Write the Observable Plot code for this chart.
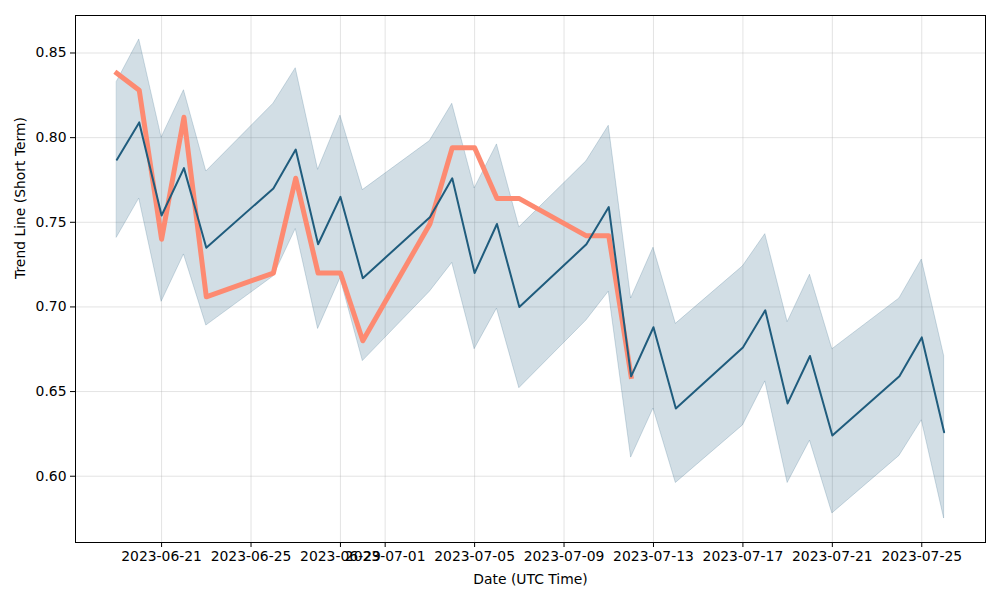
<!DOCTYPE html>
<html>
<head>
<meta charset="utf-8">
<script src="https://cdn.jsdelivr.net/npm/d3@7"></script>
<script src="https://cdn.jsdelivr.net/npm/@observablehq/plot@0.6"></script>
<style>
  html, body { margin: 0; padding: 0; background: #fff; }
  #chart { width: 1000px; height: 600px; }
  svg { font-family: "DejaVu Sans", sans-serif; }
</style>
</head>
<body>
<div id="chart"></div>
<script>
const dates = ["2023-06-19","2023-06-20","2023-06-21","2023-06-22","2023-06-23","2023-06-26","2023-06-27","2023-06-28","2023-06-29","2023-06-30","2023-07-03","2023-07-04","2023-07-05","2023-07-06","2023-07-07","2023-07-10","2023-07-11","2023-07-12","2023-07-13","2023-07-14","2023-07-17","2023-07-18","2023-07-19","2023-07-20","2023-07-21","2023-07-24","2023-07-25","2023-07-26"];
const trend = [0.787,0.809,0.754,0.782,0.735,0.770,0.793,0.737,0.765,0.717,0.753,0.776,0.720,0.749,0.700,0.737,0.759,0.659,0.688,0.640,0.676,0.698,0.643,0.671,0.624,0.659,0.682,0.626];
const upper = [0.833,0.858,0.800,0.828,0.780,0.820,0.841,0.781,0.813,0.769,0.798,0.820,0.770,0.796,0.747,0.786,0.807,0.705,0.735,0.690,0.724,0.743,0.691,0.719,0.675,0.705,0.728,0.671];
const lower = [0.741,0.764,0.703,0.731,0.689,0.718,0.746,0.687,0.717,0.668,0.709,0.726,0.675,0.699,0.652,0.692,0.709,0.611,0.640,0.596,0.630,0.656,0.596,0.621,0.578,0.612,0.633,0.575];
const actualDates = dates.slice(0, 18);
const actual = [0.838,0.828,0.740,0.812,0.706,0.720,0.776,0.720,0.720,0.680,0.749,0.794,0.794,0.764,0.764,0.742,0.742,0.659];
const xTicks = ["2023-06-21","2023-06-25","2023-06-29","2023-07-01","2023-07-05","2023-07-09","2023-07-13","2023-07-17","2023-07-21","2023-07-25"];
const yTicks = [0.60,0.65,0.70,0.75,0.80,0.85];

const parse = d3.utcParse("%Y-%m-%d");
const band = dates.map((d, i) => ({date: parse(d), trend: trend[i], lo: lower[i], hi: upper[i]}));
const act = actualDates.map((d, i) => ({date: parse(d), value: actual[i]}));
const xt = xTicks.map(parse);

// matplotlib-like 5% margins
const [x0, x1] = d3.extent(band, d => +d.date);
const xm = (x1 - x0) * 0.05;
const ymin = d3.min([...lower, ...actual]), ymax = d3.max([...upper, ...actual]);
const ym = (ymax - ymin) * 0.05;

const blue = "#1f5c7d";
const orange = "#fd8a71";
const fs = 13.9;

const plot = Plot.plot({
  width: 1000,
  height: 600,
  marginLeft: 75,
  marginRight: 15,
  marginTop: 15,
  marginBottom: 58,
  style: {fontFamily: "DejaVu Sans, sans-serif", fontSize: fs + "px", color: "black", background: "white"},
  x: {type: "utc", domain: [new Date(x0 - xm), new Date(x1 + xm)], ticks: xt, tickFormat: d3.utcFormat("%Y-%m-%d"), label: null},
  y: {domain: [ymin - ym, ymax + ym], ticks: yTicks, tickFormat: d3.format(".2f"), label: null},
  marks: [
    Plot.gridX(xt, {stroke: "#b0b0b0", strokeOpacity: 0.35, strokeWidth: 1}),
    Plot.gridY(yTicks, {stroke: "#b0b0b0", strokeOpacity: 0.35, strokeWidth: 1}),
    Plot.areaY(band, {x: "date", y1: "lo", y2: "hi", fill: blue, fillOpacity: 0.2, stroke: blue, strokeOpacity: 0.2, strokeWidth: 1}),
    Plot.lineY(act, {x: "date", y: "value", stroke: orange, strokeWidth: 5, strokeLinecap: "square", strokeLinejoin: "round"}),
    Plot.lineY(band, {x: "date", y: "trend", stroke: blue, strokeWidth: 2, strokeLinejoin: "round"}),
    Plot.axisX(xt, {tickSize: 5, tickPadding: 4, fontSize: fs, tickFormat: d3.utcFormat("%Y-%m-%d"), label: null, color: "black"}),
    Plot.axisY(yTicks, {tickSize: 5, tickPadding: 4, fontSize: fs, tickFormat: d3.format(".2f"), label: null, color: "black"}),
    Plot.frame({stroke: "black", strokeWidth: 1}),
    Plot.text(["Date (UTC Time)"], {frameAnchor: "bottom", dy: 41, fontSize: fs, fill: "black"}),
    Plot.text(["Trend Line (Short Term)"], {frameAnchor: "left", dx: -55, rotate: -90, fontSize: fs, fill: "black"})
  ]
});
document.getElementById("chart").appendChild(plot);
</script>
</body>
</html>
